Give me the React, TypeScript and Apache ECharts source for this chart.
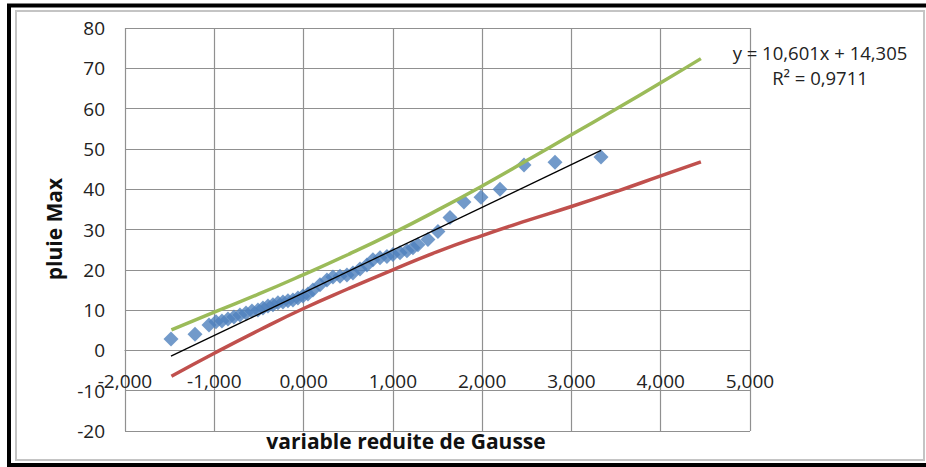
import React, { useEffect, useRef } from "react";
import * as echarts from "echarts";

// Observed points (variable reduite de Gausse, pluie Max)
const obsX = [
  -1.485, -1.216, -1.059, -0.981, -0.914, -0.847, -0.78, -0.713, -0.645, -0.578,
  -0.511, -0.455, -0.399, -0.343, -0.287, -0.231, -0.175, -0.119, -0.063, -0.007,
  0.049, 0.105, 0.184, 0.262, 0.329, 0.408, 0.486, 0.553, 0.632, 0.71,
  0.777, 0.856, 0.934, 1.001, 1.08, 1.158, 1.225, 1.281, 1.393, 1.505,
  1.64, 1.796, 1.987, 2.2, 2.469, 2.816, 3.331,
];
const obsY = [
  2.85, 4.0, 6.3, 7.1, 7.3, 7.8, 8.3, 8.8, 9.3, 9.8,
  10.0, 10.5, 11.0, 11.3, 11.8, 12.0, 12.3, 12.5, 13.0, 13.5,
  14.0, 15.0, 16.3, 17.5, 18.2, 18.4, 18.7, 19.2, 20.2, 21.2,
  22.5, 23.0, 23.3, 23.8, 24.2, 24.7, 25.5, 26.2, 27.5, 29.5,
  33.0, 36.8, 38.0, 40.0, 46.0, 46.7, 48.0,
];

// Trend line end points (y = 10,601x + 14,305)
const trendX = [-1.485, 3.331];
const trendY = [-1.437, 49.617];

// Confidence band limits
const bandX = [-1.48, -1.0, -0.5, 0.0, 0.5, 1.0, 1.5, 2.0, 2.5, 3.0, 3.5, 4.0, 4.45];
const upperY = [5.1, 9.5, 14.0, 18.8, 23.8, 29.1, 34.8, 40.8, 47.1, 53.5, 59.9, 66.4, 72.4];
const lowerY = [-6.4, -0.7, 5.0, 10.4, 15.3, 20.0, 24.5, 28.5, 32.2, 35.7, 39.4, 43.3, 46.8];

const equationText = "y = 10,601x + 14,305";
const r2Text = "R² = 0,9711";
const xTitle = "variable reduite de Gausse";
const yTitle = "pluie Max";

const FONT = "'Open Sans', 'Liberation Sans', sans-serif";

export default function App() {
  const ref = useRef<HTMLDivElement>(null);
  useEffect(() => {
    if (!ref.current) return;
    const chart = echarts.init(ref.current, undefined, { renderer: "svg" });
    const zip = (xs: number[], ys: number[]) => xs.map((x, i) => [x, ys[i]]);
    const gridColor = "#909090";
    chart.setOption({
      animation: false,
      backgroundColor: "#ffffff",
      grid: { left: 125, top: 28, right: 176, bottom: 36, containLabel: false },
      xAxis: {
        type: "value",
        min: -2,
        max: 5,
        interval: 1,
        position: "bottom",
        offset: -80.6,
        axisLine: { show: true, onZero: false, lineStyle: { color: gridColor, width: 1.2 } },
        axisTick: { show: false },
        axisLabel: {
          margin: 21,
          fontFamily: FONT,
          fontSize: 19,
          color: "#222",
          formatter: (v: number) => v.toFixed(3).replace(".", ","),
        },
        splitLine: { show: true, lineStyle: { color: gridColor, width: 1.2 } },
      },
      yAxis: {
        type: "value",
        min: -20,
        max: 80,
        interval: 10,
        axisLine: { show: false, onZero: false },
        axisTick: { show: false },
        axisLabel: { margin: 20, fontFamily: FONT, fontSize: 19, color: "#222" },
        splitLine: { show: true, lineStyle: { color: gridColor, width: 1.2 } },
      },
      series: [
        {
          type: "scatter",
          data: zip(obsX, obsY),
          symbol: "diamond",
          symbolSize: 15,
          itemStyle: { color: "#4F81BD" },
          z: 2,
        },
        {
          type: "line",
          data: zip(bandX, upperY),
          smooth: true,
          showSymbol: false,
          lineStyle: { color: "#9BBB59", width: 3.5 },
          z: 3,
        },
        {
          type: "line",
          data: zip(bandX, lowerY),
          smooth: true,
          showSymbol: false,
          lineStyle: { color: "#C0504D", width: 3.5 },
          z: 3,
        },
        {
          type: "line",
          data: zip(trendX, trendY),
          showSymbol: false,
          lineStyle: { color: "#000000", width: 1.3 },
          z: 4,
        },
      ],
      graphic: [
        {
          type: "rect",
          shape: { x: 9, y: 5.5, width: 930, height: 459.5 },
          style: { fill: "none", stroke: "#000", lineWidth: 4 },
          silent: true,
        },
        {
          type: "rect",
          shape: { x: 16, y: 11, width: 908, height: 449 },
          style: { fill: "none", stroke: "#c4c4c4", lineWidth: 2 },
          silent: true,
        },
        {
          type: "text",
          x: 820,
          y: 52,
          style: {
            text: equationText,
            fontFamily: FONT,
            fontSize: 18.5,
            fill: "#222",
            align: "center",
            verticalAlign: "middle",
          },
          z: 10,
        },
        {
          type: "text",
          x: 820,
          y: 77,
          style: {
            text: r2Text,
            fontFamily: FONT,
            fontSize: 18.5,
            fill: "#222",
            align: "center",
            verticalAlign: "middle",
          },
          z: 10,
        },
        {
          type: "text",
          x: 406,
          y: 441,
          style: {
            text: xTitle,
            fontFamily: FONT,
            fontSize: 21,
            fontWeight: "bold",
            fill: "#111",
            align: "center",
            verticalAlign: "middle",
          },
          z: 10,
        },
        {
          type: "text",
          x: 54,
          y: 229,
          rotation: Math.PI / 2,
          style: {
            text: yTitle,
            fontFamily: FONT,
            fontSize: 21,
            fontWeight: "bold",
            fill: "#111",
            align: "center",
            verticalAlign: "middle",
          },
          z: 10,
        },
      ],
    });
    return () => chart.dispose();
  }, []);
  return (
    <div
      ref={ref}
      style={{ position: "fixed", left: 0, top: 0, width: 926, height: 467, background: "#fff" }}
    />
  );
}
